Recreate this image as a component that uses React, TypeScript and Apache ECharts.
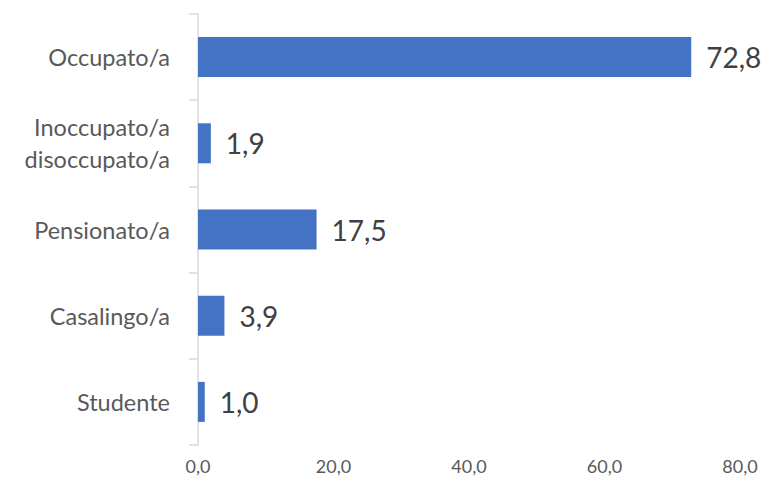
import React, { useEffect, useRef } from "react";
import * as echarts from "echarts";

const categories = ["Occupato/a", "Inoccupato/a\ndisoccupato/a", "Pensionato/a", "Casalingo/a", "Studente"];
const values = [72.8, 1.9, 17.5, 3.9, 1.0];
const xTicks = [0, 20, 40, 60, 80];

const fmt = (v: number) => v.toFixed(1).replace(".", ",");

export default function App() {
  const ref = useRef<HTMLDivElement>(null);
  useEffect(() => {
    if (!ref.current) return;
    const chart = echarts.init(ref.current, null, { renderer: "svg" });
    chart.setOption({
      animation: false,
      backgroundColor: "#ffffff",
      grid: { left: 198, right: 27, top: 14, bottom: 36, containLabel: false },
      xAxis: {
        type: "value",
        min: xTicks[0],
        max: xTicks[xTicks.length - 1],
        interval: 20,
        axisLine: { show: false },
        axisTick: { show: false },
        splitLine: { show: false },
        axisLabel: {
          formatter: (v: number) => fmt(v),
          fontSize: 18,
          color: "#595959",
          fontFamily: "Lato",
          margin: 12,
        },
      },
      yAxis: {
        type: "category",
        inverse: true,
        data: categories,
        axisLine: { show: true, lineStyle: { color: "#d9d9d9", width: 1.5 } },
        axisTick: { show: true, length: 9, lineStyle: { color: "#d9d9d9", width: 1.5 } },
        axisLabel: {
          fontSize: 23.5,
          color: "#595959",
          fontFamily: "Lato",
          margin: 28,
          lineHeight: 32,
        },
      },
      series: [
        {
          type: "bar",
          data: values,
          barWidth: 40,
          itemStyle: { color: "#4472C4" },
          label: {
            show: true,
            position: "right",
            distance: 15,
            formatter: (p: any) => fmt(p.value),
            fontSize: 28,
            color: "#404040",
            fontFamily: "Lato",
          },
        },
      ],
    });
    return () => chart.dispose();
  }, []);
  return (
    <div
      ref={ref}
      style={{ position: "fixed", left: 0, top: 0, width: 767, height: 481 }}
    />
  );
}
